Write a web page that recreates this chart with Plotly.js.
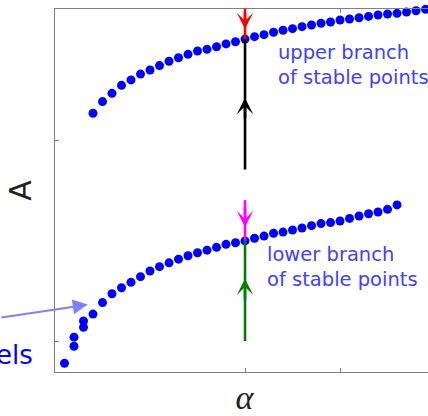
<!DOCTYPE html>
<html>
<head>
<meta charset="utf-8">
<script src="https://cdn.plot.ly/plotly-3.0.1.min.js"></script>
<style>
html,body{margin:0;padding:0;overflow:hidden;background:#fff;}
#chart{width:460px;height:416px;}
</style>
</head>
<body>
<div id="chart"></div>
<script>
// control parameter alpha for each stable point
const upperAlpha = [0.4,0.5,0.6,0.7,0.8,0.9,1.0,1.1,1.2,1.3,1.4,1.5,1.6,1.7,1.8,1.9,2.0,2.1,2.2,2.3,2.4,2.5,2.6,2.7,2.8,2.9,3.0,3.1,3.2,3.3,3.4,3.5,3.6,3.7,3.8,3.9];
const upperA = [2.133,2.191,2.232,2.272,2.299,2.328,2.348,2.370,2.392,2.409,2.426,2.443,2.451,2.464,2.478,2.489,2.502,2.514,2.524,2.536,2.546,2.554,2.564,2.572,2.581,2.587,2.597,2.602,2.608,2.615,2.622,2.627,2.630,2.637,2.643,2.650];
const lowerAlpha = [0.1,0.2,0.2,0.3,0.3,0.4,0.5,0.6,0.7,0.8,0.9,1.0,1.1,1.2,1.3,1.4,1.5,1.6,1.7,1.8,1.9,2.0,2.1,2.2,2.3,2.4,2.5,2.6,2.7,2.8,2.9,3.0,3.1,3.2,3.3,3.4,3.5,3.6];
const lowerA = [0.889,0.974,1.019,1.068,1.100,1.134,1.191,1.235,1.265,1.292,1.320,1.348,1.370,1.389,1.407,1.424,1.439,1.452,1.466,1.481,1.489,1.498,1.511,1.522,1.536,1.542,1.552,1.562,1.574,1.584,1.589,1.597,1.610,1.622,1.633,1.642,1.655,1.677];

// trajectories at a fixed alpha
const probeAlpha = [2.0, 2.0];
const blackA = [1.853, 2.502];
const redA = [2.632, 2.502];
const magentaA = [1.701, 1.498];
const greenA = [1.000, 1.498];
// arrow tips on the trajectories: [red, black, magenta, green]
const arrowTipA = [2.552, 2.209, 1.566, 1.310];

const xTicks = [2, 3];
const yTicks = [1, 2];

const blueText = '#4040ff';

const traces = [
  {x: upperAlpha, y: upperA, mode: 'markers', type: 'scatter',
   marker: {color: '#0000ff', size: 9}, hoverinfo: 'skip', cliponaxis: false},
  {x: lowerAlpha, y: lowerA, mode: 'markers', type: 'scatter',
   marker: {color: '#0000ff', size: 9}, hoverinfo: 'skip'},
  {x: probeAlpha, y: blackA, mode: 'lines', line: {color: '#000000', width: 2.6}, hoverinfo: 'skip'},
  {x: probeAlpha, y: redA, mode: 'lines', line: {color: '#ff0000', width: 2.6}, hoverinfo: 'skip'},
  {x: probeAlpha, y: magentaA, mode: 'lines', line: {color: '#ff00ff', width: 2.6}, hoverinfo: 'skip'},
  {x: probeAlpha, y: greenA, mode: 'lines', line: {color: '#008000', width: 2.6}, hoverinfo: 'skip'}
];

const arrowColors = ['#ff0000', '#000000', '#ff00ff', '#008000'];
const arrowDirs = [-1, 1, -1, 1]; // -1: points down, 1: points up
const annotations = arrowTipA.map((a, i) => ({
  x: probeAlpha[0], y: a, xref: 'x', yref: 'y', text: '', showarrow: true,
  arrowhead: 3, arrowsize: 1.05, arrowwidth: 2.6, arrowcolor: arrowColors[i],
  ax: 0, ay: 22 * arrowDirs[i], standoff: 0
}));

annotations.push({
  x: 2.33, y: 2.372, xref: 'x', yref: 'y', xanchor: 'left', yanchor: 'middle', align: 'left',
  text: 'upper branch<br>of stable points', showarrow: false,
  font: {family: 'DejaVu Sans', size: 19.5, color: blueText}
});
annotations.push({
  x: 2.205, y: 1.37, xref: 'x', yref: 'y', xanchor: 'left', yanchor: 'middle', align: 'left',
  text: 'lower branch<br>of stable points', showarrow: false,
  font: {family: 'DejaVu Sans', size: 19.5, color: blueText}
});
annotations.push({
  x: -0.054, y: 0.047, xref: 'paper', yref: 'paper', xanchor: 'right', yanchor: 'middle',
  text: 'els', showarrow: false,
  font: {family: 'DejaVu Sans', size: 26, color: '#0000ff'}
});
annotations.push({
  x: 0.345, y: 1.181, xref: 'x', yref: 'y', text: '', showarrow: true,
  arrowhead: 2, arrowsize: 1.5, arrowwidth: 2, arrowcolor: '#8080ff',
  ax: -98, ay: 13, standoff: 0
});

const layout = {
  width: 460, height: 416,
  margin: {l: 55, r: 26, t: 9, b: 44},
  paper_bgcolor: '#ffffff', plot_bgcolor: '#ffffff',
  showlegend: false,
  xaxis: {
    range: [0, 3.989], tickvals: xTicks, showticklabels: false,
    ticks: 'inside', ticklen: 4, tickwidth: 1, tickcolor: '#808080',
    showline: true, linecolor: '#808080', linewidth: 1.3, mirror: 'ticks',
    showgrid: false, zeroline: false,
    title: {text: 'α', standoff: 18, font: {family: 'Liberation Serif', style: 'italic', size: 34, color: '#222'}}
  },
  yaxis: {
    range: [0.8458, 2.6517], tickvals: yTicks, showticklabels: false,
    ticks: 'inside', ticklen: 4, tickwidth: 1, tickcolor: '#808080',
    showline: true, linecolor: '#808080', linewidth: 1.3, mirror: false,
    showgrid: false, zeroline: false,
    title: {text: 'A', standoff: 13, font: {family: 'DejaVu Sans', size: 30, color: '#222'}}
  },
  annotations: annotations
};

Plotly.newPlot('chart', traces, layout, {displayModeBar: false, staticPlot: true});
</script>
</body>
</html>
